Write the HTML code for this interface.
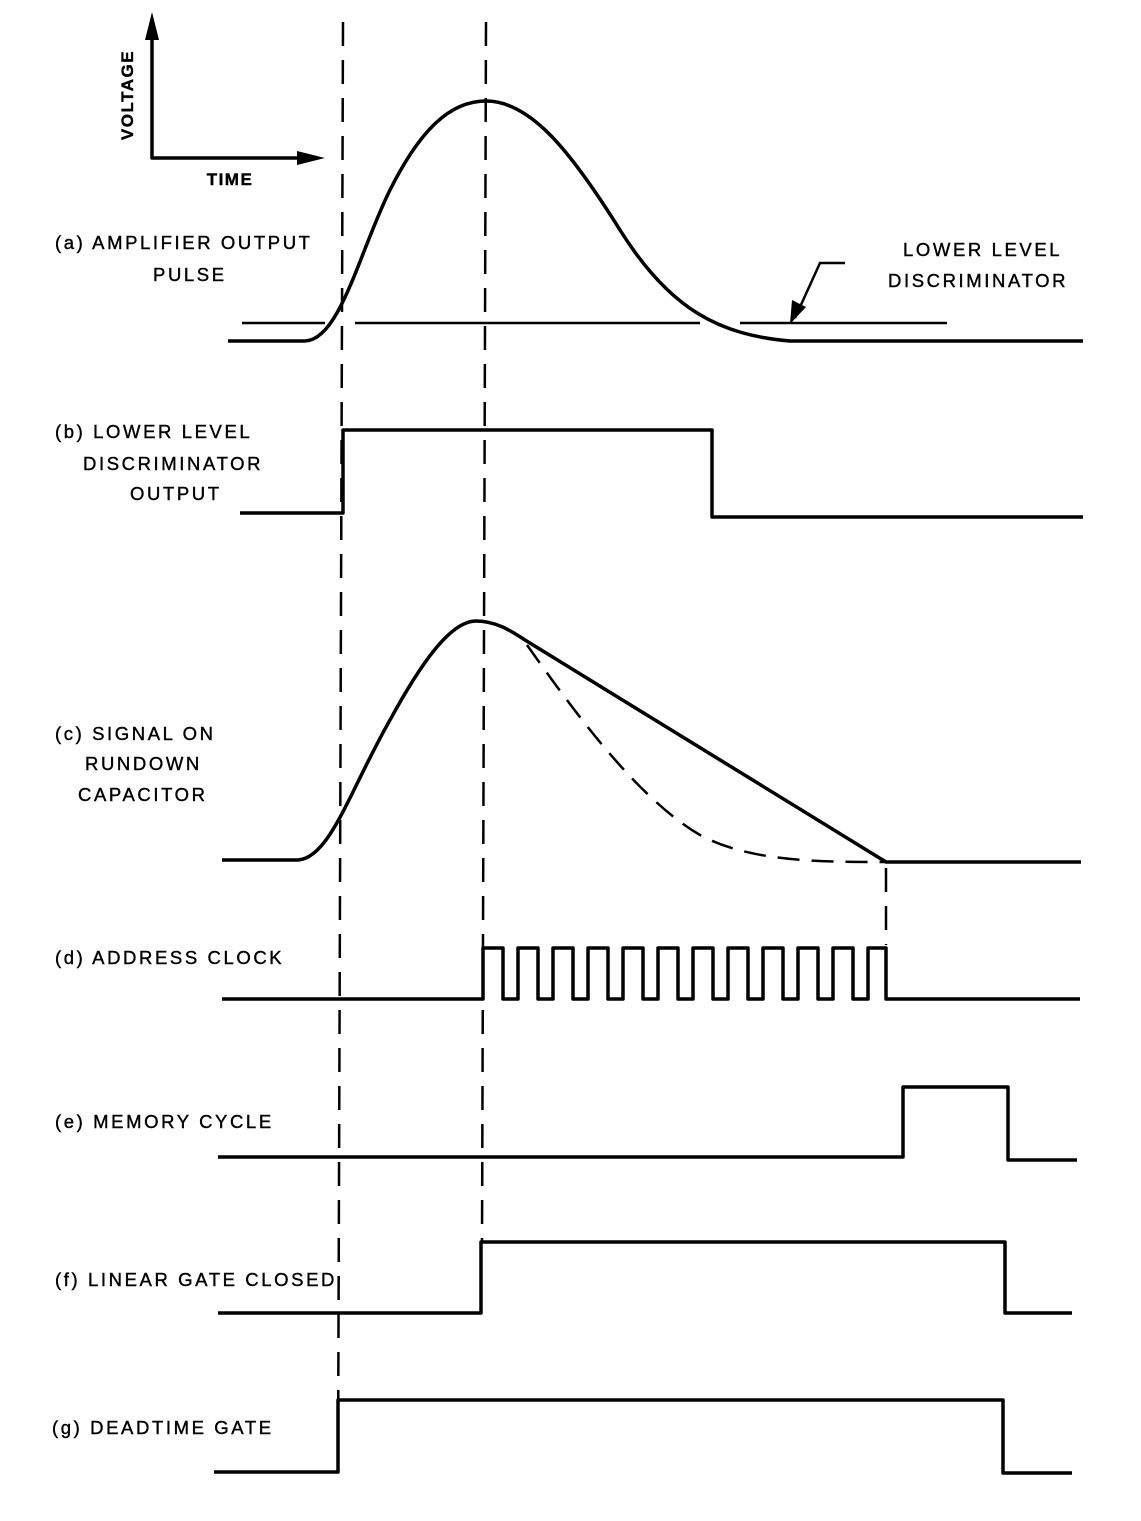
<!DOCTYPE html>
<html><head><meta charset="utf-8"><style>
html,body{margin:0;padding:0;background:#fff;}
svg{display:block}
text{font-family:"Liberation Sans",sans-serif;font-size:18.5px;fill:#000;letter-spacing:2.6px;stroke:#000;stroke-width:0.4px;}
</style></head><body>
<svg width="1141" height="1521" viewBox="0 0 1141 1521" xmlns="http://www.w3.org/2000/svg">
<g fill="none" stroke="#000" stroke-width="3.5" stroke-linejoin="round" stroke-linecap="round">
<path d="M152 30 V158 H305"/>
</g>
<polygon points="152,12 145,40 159,40" fill="#000"/>
<polygon points="325,158 297,151 297,165" fill="#000"/>
<text transform="translate(133,95) rotate(-90)" text-anchor="middle" font-weight="bold" style="font-size:17px;letter-spacing:1.5px">VOLTAGE</text>
<text x="230" y="185" text-anchor="middle" font-weight="bold" style="font-size:17px;letter-spacing:1.5px">TIME</text>

<g stroke="#000" stroke-width="2.5" stroke-dasharray="24,14" fill="none">
<path d="M343 22 L338 1472"/>
<path d="M486 22 L482 1242"/>
<path d="M886 868 V945"/>
</g>

<g fill="none" stroke="#000" stroke-width="3.5" stroke-linejoin="round">
<path d="M228 341 H305 C340 340 360 250 390 190 C420 130 450 101 486 101 C530 101 570 150 620 230 C670 310 720 335 790 341 H1083"/>
<path d="M240 513 H343 V430 H712 V517 H1083"/>
<path d="M222 860 H298 C330 858 350 790 390 720 C420 665 450 621 476 621 C495 621 510 630 525 640 L886 862 H1081"/>
<path d="M222 999 H483 V948 H503 V999 H518 V948 H538 V999 H553 V948 H573 V999 H588 V948 H608 V999 H623 V948 H643 V999 H658 V948 H678 V999 H693 V948 H713 V999 H728 V948 H748 V999 H763 V948 H783 V999 H798 V948 H818 V999 H833 V948 H853 V999 H868 V948 H886 V999 H1080"/>
<path d="M218 1157 H903 V1087 H1008 V1160 H1077"/>
<path d="M218 1313 H481 V1242 H1005 V1313 H1072"/>
<path d="M214 1472 H338 V1400 H1003 V1473 H1072"/>
</g>
<g stroke="#000" stroke-width="2.5" fill="none">
<path d="M242 323 H325 M355 323 H700 M740 323 H947"/>
<path d="M845 263 H820 L795 318"/>
</g>
<polygon points="790,324 792,300 806,307" fill="#000"/>
<path d="M527 645 C580 720 640 800 700 835 C750 862 820 862 886 862" fill="none" stroke="#000" stroke-width="2.5" stroke-dasharray="22,12"/>

<text x="55" y="249">(a)  AMPLIFIER OUTPUT</text>
<text x="153" y="281">PULSE</text>
<text x="903" y="256">LOWER LEVEL</text>
<text x="888" y="287">DISCRIMINATOR</text>
<text x="55" y="438">(b)  LOWER LEVEL</text>
<text x="83" y="470">DISCRIMINATOR</text>
<text x="130" y="500">OUTPUT</text>
<text x="55" y="740">(c) SIGNAL ON</text>
<text x="85" y="770">RUNDOWN</text>
<text x="78" y="801">CAPACITOR</text>
<text x="55" y="964">(d)  ADDRESS CLOCK</text>
<text x="55" y="1128">(e)  MEMORY CYCLE</text>
<text x="55" y="1286">(f)  LINEAR GATE CLOSED</text>
<text x="52" y="1434">(g)  DEADTIME GATE</text>
</svg>
</body></html>
